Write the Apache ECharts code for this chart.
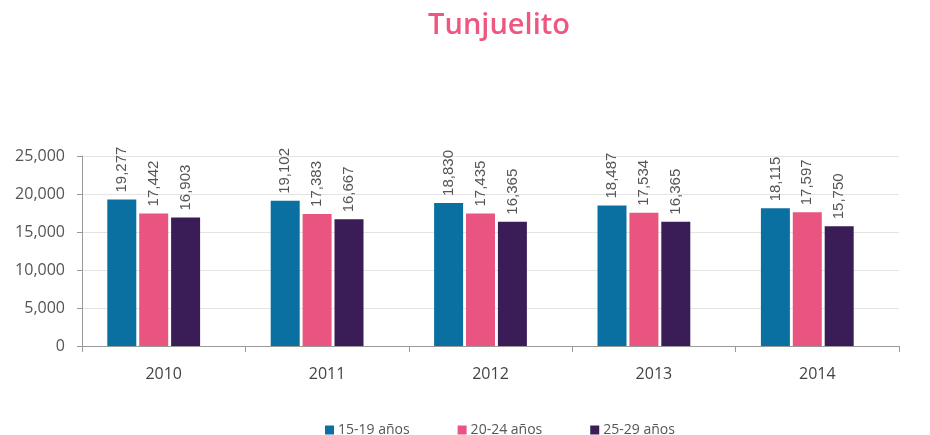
<!DOCTYPE html>
<html>
<head>
<meta charset="utf-8">
<script src="https://cdn.jsdelivr.net/npm/echarts@6/dist/echarts.min.js"></script>
<style>
  html, body { margin: 0; padding: 0; background: #fff; }
  #chart { width: 930px; height: 435px; }
</style>
</head>
<body>
<div id="chart"></div>
<script>
// data
var years = ['2010', '2011', '2012', '2013', '2014'];
var seriesNames = ['15-19 años', '20-24 años', '25-29 años'];
var age15_19 = [19277, 19102, 18830, 18487, 18115];
var age20_24 = [17442, 17383, 17435, 17534, 17597];
var age25_29 = [16903, 16667, 16365, 16365, 15750];
var yTicks = [0, 5000, 10000, 15000, 20000, 25000];
var colors = ['#0a70a1', '#ea5481', '#3a1d56'];

var chart = echarts.init(document.getElementById('chart'));

function fmt(v) {
    return String(v).replace(/\B(?=(\d{3})+(?!\d))/g, ',');
}

function barSeries(name, data, color) {
    return {
        name: name,
        type: 'bar',
        xAxisIndex: 1,
        yAxisIndex: 1,
        data: data,
        barWidth: 29,
        barGap: '10%',
        itemStyle: { color: color },
        label: {
            show: true,
            position: 'top',
            rotate: 90,
            align: 'left',
            verticalAlign: 'middle',
            distance: 7,
            color: '#555',
            fontSize: 15,
            fontFamily: 'Liberation Sans',
            formatter: function (p) { return fmt(p.value); }
        }
    };
}

var yMin = yTicks[0], yMax = yTicks[yTicks.length - 1], yStep = yTicks[1] - yTicks[0];

var option = {
    backgroundColor: '#fff',
    color: colors,
    title: {
        text: 'Tunjuelito',
        left: 494,
        top: 6,
        textAlign: 'center',
        textStyle: {
            color: '#ee5880',
            fontSize: 29,
            fontWeight: 600,
            fontFamily: 'Open Sans'
        }
    },
    legend: {
        top: 418,
        left: 320,
        itemWidth: 9,
        itemHeight: 9,
        itemGap: 48,
        icon: 'rect',
        textStyle: { color: '#555', fontSize: 14, fontFamily: 'Open Sans', padding: [0, 0, 0, -1] }
    },
    grid: [
        { left: 82, right: 31, top: 156, bottom: 89 },
        // bars sit a little left of the category centres in the original
        { left: 72, right: 41, top: 156, bottom: 89 }
    ],
    xAxis: [{
        type: 'category',
        gridIndex: 0,
        data: years,
        axisLine: { lineStyle: { color: '#999' } },
        axisTick: { show: true, length: 6, lineStyle: { color: '#999' } },
        axisLabel: { color: '#444', fontSize: 16, margin: 20, fontFamily: 'Open Sans' }
    }, {
        type: 'category',
        gridIndex: 1,
        data: years,
        show: false
    }],
    yAxis: [{
        type: 'value',
        gridIndex: 0,
        min: yMin,
        max: yMax,
        interval: yStep,
        axisLine: { show: true, lineStyle: { color: '#999' } },
        axisTick: { show: true, length: 5, lineStyle: { color: '#999' } },
        splitLine: { lineStyle: { color: '#e4e4e4' } },
        axisLabel: {
            color: '#555',
            fontSize: 16,
            margin: 17,
            fontFamily: 'Open Sans',
            formatter: function (v) { return fmt(v); }
        }
    }, {
        type: 'value',
        gridIndex: 1,
        min: yMin,
        max: yMax,
        interval: yStep,
        show: false,
        splitLine: { show: false }
    }],
    series: [
        barSeries(seriesNames[0], age15_19, colors[0]),
        barSeries(seriesNames[1], age20_24, colors[1]),
        barSeries(seriesNames[2], age25_29, colors[2])
    ]
};

chart.setOption(option);
</script>
</body>
</html>
